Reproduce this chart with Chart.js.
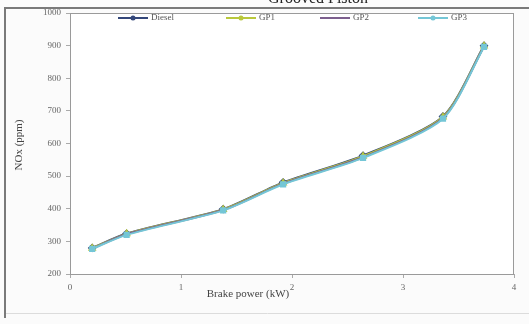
<!DOCTYPE html>
<html>
<head>
<meta charset="utf-8">
<script src="https://cdn.jsdelivr.net/npm/chart.js@4/dist/chart.umd.min.js"></script>
<style>
  html, body { margin: 0; padding: 0; background: #fbfbfb; }
  #wrap { position: relative; width: 529px; height: 324px; }
</style>
</head>
<body>
<div id="wrap"><canvas id="noxChart" width="529" height="324"></canvas></div>
<script>
// brake power (kW) and NOx (ppm)
const power = [0.2, 0.51, 1.38, 1.92, 2.64, 3.36, 3.73];
const diesel = [280, 324, 399, 481, 563, 683, 900];
const gp1 = [279, 323, 398, 479, 561, 681, 899];
const gp2 = [278, 322, 396, 477, 558, 678, 897];
const gp3 = [277, 320, 395, 475, 556, 676, 896];
const seriesNames = ['Diesel', 'GP1', 'GP2', 'GP3'];
const yTicks = [200, 300, 400, 500, 600, 700, 800, 900, 1000];
const xTicks = [0, 1, 2, 3, 4];

const serif = '"Liberation Serif", "DejaVu Serif", serif';
const colors = ['#34477a', '#b9c83c', '#7c5f8e', '#74c6d6'];
const markers = ['rectRot', 'triangle', false, 'rect'];

function pts(ys) {
  return power.map((x, i) => ({ x: x, y: ys[i] }));
}

const seriesData = [diesel, gp1, gp2, gp3];

const datasets = seriesNames.map((name, i) => ({
  label: name,
  data: pts(seriesData[i]),
  borderColor: colors[i],
  backgroundColor: colors[i],
  borderWidth: 2,
  showLine: true,
  tension: 0.25,
  pointStyle: markers[i] || 'circle',
  pointRadius: markers[i] ? 3 : 0,
  order: 4 - i
}));

// frame, cut-off title, inline legend and axis titles
const decor = {
  id: 'decor',
  beforeDraw(chart) {
    const c = chart.ctx, a = chart.chartArea;
    c.save();
    c.fillStyle = '#ffffff';
    c.fillRect(a.left, a.top, a.right - a.left, a.bottom - a.top);
    c.strokeStyle = '#7a7a7a';
    c.lineWidth = 2;
    c.beginPath();
    c.moveTo(5, 318); c.lineTo(5, 8); c.lineTo(529, 8);
    c.stroke();
    c.strokeStyle = '#dcdcdc';
    c.lineWidth = 1;
    c.beginPath();
    c.moveTo(6, 313.5); c.lineTo(529, 313.5);
    c.stroke();
    c.restore();
  },
  afterDraw(chart) {
    const c = chart.ctx, a = chart.chartArea;
    c.save();
    c.strokeStyle = '#9a9a9a';
    c.lineWidth = 1;
    c.strokeRect(a.left + 0.5, a.top + 0.5, a.right - a.left - 1, a.bottom - a.top);
    c.fillStyle = '#222';
    c.font = '16px ' + serif;
    c.textAlign = 'center';
    c.textBaseline = 'alphabetic';
    c.fillText('Grooved Piston', 318, 3);

    // legend
    const lx = [118, 226, 320, 418];
    c.font = '9px ' + serif;
    c.textBaseline = 'middle';
    c.textAlign = 'left';
    chart.data.datasets.forEach((ds, i) => {
      const x = lx[i], y = 18;
      c.strokeStyle = ds.borderColor;
      c.lineWidth = 2;
      c.beginPath(); c.moveTo(x, y); c.lineTo(x + 30, y); c.stroke();
      if (ds.pointRadius) {
        c.fillStyle = ds.borderColor;
        c.beginPath(); c.arc(x + 15, y, 2.5, 0, Math.PI * 2); c.fill();
      }
      c.fillStyle = '#555';
      c.fillText(ds.label, x + 33, y);
    });

    // axis titles
    c.fillStyle = '#444';
    c.font = '11px ' + serif;
    c.textAlign = 'center';
    c.fillText('Brake power (kW)', 248, 294);
    c.translate(19, 145);
    c.rotate(-Math.PI / 2);
    c.fillText('NOx (ppm)', 0, 0);
    c.restore();
  }
};

new Chart(document.getElementById('noxChart'), {
  type: 'scatter',
  data: { datasets: datasets },
  plugins: [decor],
  options: {
    responsive: false,
    animation: false,
    layout: { padding: { left: 0, right: 15, top: 13, bottom: 0 } },
    plugins: { legend: { display: false }, tooltip: { enabled: false } },
    scales: {
      x: {
        type: 'linear', min: 0, max: 4,
        afterFit(s) { s.height = 50; },
        afterBuildTicks(s) { s.ticks = xTicks.map(v => ({ value: v })); },
        grid: { drawOnChartArea: false, tickLength: 4, color: '#aaa' },
        border: { display: false },
        ticks: { color: '#666', font: { family: serif, size: 9 }, padding: 4, callback: v => String(v) }
      },
      y: {
        type: 'linear', min: 200, max: 1000,
        afterFit(s) { s.width = 70; },
        afterBuildTicks(s) { s.ticks = yTicks.map(v => ({ value: v })); },
        grid: { drawOnChartArea: false, tickLength: 4, color: '#aaa' },
        border: { display: false },
        ticks: { color: '#666', font: { family: serif, size: 9 }, padding: 5, callback: v => String(v) }
      }
    }
  }
});
</script>
</body>
</html>
